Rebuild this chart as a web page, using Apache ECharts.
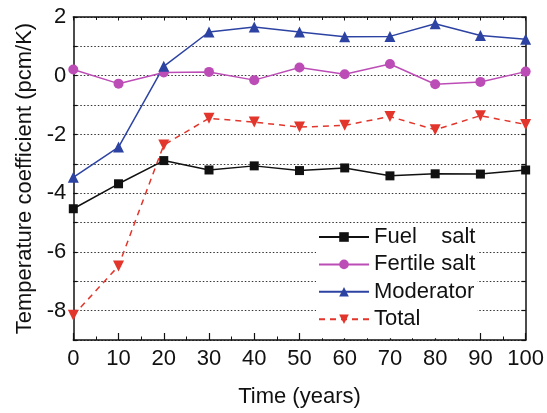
<!DOCTYPE html>
<html>
<head>
<meta charset="utf-8">
<script src="https://cdn.jsdelivr.net/npm/echarts@6/dist/echarts.min.js"></script>
<style>html,body{margin:0;padding:0;background:#fff}#c{width:547px;height:413px}</style>
</head>
<body>
<div id="c"></div>
<script>
var years = [0, 10, 20, 30, 40, 50, 60, 70, 80, 90, 100];
var fuelSalt = [-4.53, -3.68, -2.89, -3.21, -3.07, -3.23, -3.14, -3.41, -3.34, -3.35, -3.21];
var fertileSalt = [0.21, -0.27, 0.11, 0.13, -0.15, 0.28, 0.05, 0.40, -0.29, -0.21, 0.14];
var moderator = [-3.46, -2.43, 0.32, 1.49, 1.66, 1.49, 1.33, 1.34, 1.77, 1.37, 1.24];
var total = [-8.16, -6.48, -2.36, -1.45, -1.58, -1.75, -1.69, -1.39, -1.84, -1.36, -1.66];
var seriesNames = ['Fuel    salt', 'Fertile salt', 'Moderator', 'Total'];

function pairs(arr){ return years.map(function(x,i){ return [x, arr[i]]; }); }
var FONT = '"Liberation Sans", Arial, sans-serif';
var chart = echarts.init(document.getElementById('c'));
var axisLine = {show:true, onZero:false, lineStyle:{color:'#111', width:1.5}};
chart.setOption({
  animation:false,
  backgroundColor:'#fff',
  grid:{left:73.3, right:19, top:17, bottom:64.3, containLabel:false},
  xAxis:[{
    type:'value', min:0, max:100, interval:10, position:'bottom',
    name:'Time (years)', nameLocation:'middle', nameGap:46,
    nameTextStyle:{fontFamily:FONT, fontSize:22, color:'#111'},
    axisLine:axisLine,
    axisTick:{show:true, inside:true, length:7, lineStyle:{color:'#111', width:1.2}},
    minorTick:{show:true, splitNumber:2, length:3.5, lineStyle:{color:'#111', width:1}},
    axisLabel:{fontFamily:FONT, fontSize:22, color:'#111', margin:8},
    splitLine:{show:false}
  },{
    type:'value', min:0, max:100, interval:10, position:'top',
    axisLine:axisLine,
    axisTick:{show:true, inside:true, length:3.5, lineStyle:{color:'#111', width:1}},
    minorTick:{show:true, splitNumber:2, length:3, lineStyle:{color:'#111', width:1}},
    axisLabel:{show:false}, splitLine:{show:false}
  }],
  yAxis:[{
    type:'value', min:-9, max:2, interval:1, position:'left',
    name:'Temperature coefficient (pcm/K)', nameLocation:'middle', nameGap:37,
    nameTextStyle:{fontFamily:FONT, fontSize:22, color:'#111'},
    axisLine:axisLine,
    axisTick:{show:true, inside:true, length:4, lineStyle:{color:'#111', width:1.2}},
    axisLabel:{fontFamily:FONT, fontSize:22, color:'#111', margin:7,
      formatter:function(v){ return (Math.round(v)%2===0) ? String(v) : ''; }},
    splitLine:{show:true, lineStyle:{color:'#333', type:[1.5,2], width:1}}
  },{
    type:'value', min:-9, max:2, interval:1, position:'right',
    axisLine:axisLine,
    axisTick:{show:true, inside:true, length:4, lineStyle:{color:'#111', width:1.2}},
    axisLabel:{show:false}, splitLine:{show:false}
  }],
  legend:{
    left:316, top:223, orient:'vertical',
    data:seriesNames,
    backgroundColor:'#fff',
    padding:[3,2,8,2],
    itemWidth:50, itemHeight:12, itemGap:5.4, itemTextGap:8,
    textStyle:{fontFamily:FONT, fontSize:22, color:'#111', lineHeight:22}
  },
  series:[
    {name:seriesNames[0], type:'line', data:pairs(fuelSalt), symbol:'rect', symbolSize:9,
      itemStyle:{color:'#111'}, lineStyle:{color:'#111', width:1.5}},
    {name:seriesNames[1], type:'line', data:pairs(fertileSalt), symbol:'circle', symbolSize:10,
      itemStyle:{color:'#bd4db6'}, lineStyle:{color:'#bd4db6', width:1.5}},
    {name:seriesNames[2], type:'line', data:pairs(moderator), symbol:'triangle', symbolSize:11,
      itemStyle:{color:'#2d43a3'}, lineStyle:{color:'#2d43a3', width:1.5}},
    {name:seriesNames[3], type:'line', data:pairs(total), symbol:'triangle', symbolSize:11, symbolRotate:180,
      itemStyle:{color:'#e2352b'}, lineStyle:{color:'#e2352b', width:1.5, type:[6,5]}}
  ]
});
</script>
</body>
</html>
